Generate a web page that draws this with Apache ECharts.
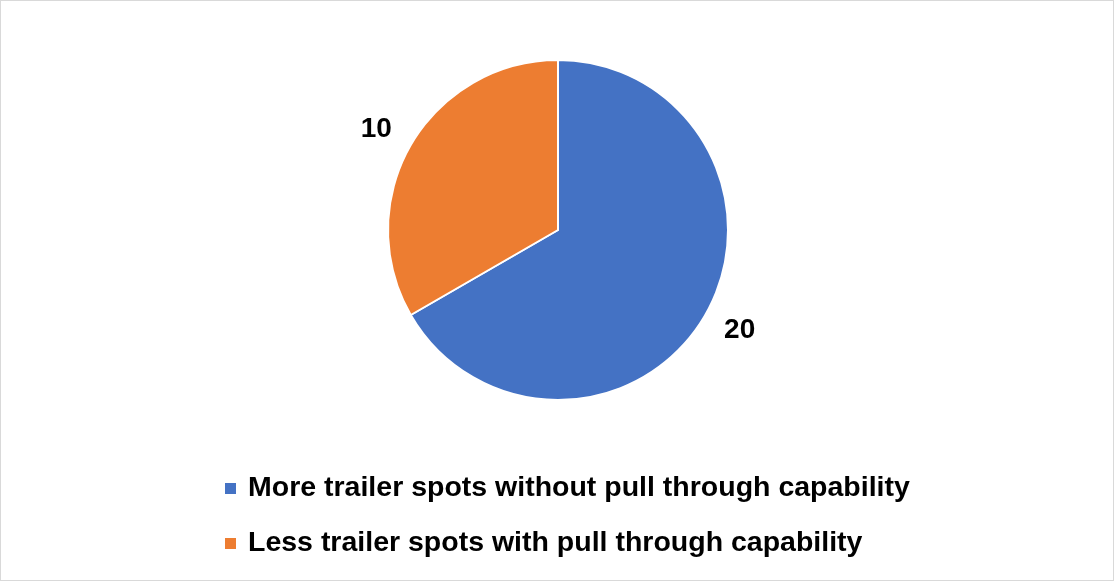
<!DOCTYPE html>
<html>
<head>
    <meta charset="utf-8">
    <script src="https://cdn.jsdelivr.net/npm/echarts@6/dist/echarts.min.js"></script>
    <style>
        body { margin: 0; background: #fff; }
        #main { width: 1112px; height: 579px; border: 1px solid #d9d9d9; }
    </style>
</head>
<body>
<div id="main"></div>
<script type="text/javascript">
    var names = ['More trailer spots without pull through capability', 'Less trailer spots with pull through capability'];
    var values = [20, 10];
    var colors = ['#4472C4', '#ED7D31'];

    var pieData = [];
    for (var i = 0; i < names.length; i++) {
        pieData.push({name: names[i], value: values[i], itemStyle: {color: colors[i]}});
    }

    var myChart = echarts.init(document.getElementById('main'));
    var option = {
        backgroundColor: '#fff',
        animation: false,
        legend: {
            orient: 'vertical', left: 217, top: 468,
            itemWidth: 13, itemHeight: 13, itemGap: 26,
            icon: 'rect',
            textStyle: {
                fontFamily: '"Liberation Sans", sans-serif',
                fontWeight: 'bold', fontSize: 28.5, color: '#000', padding: [0, 0, 0, 6]
            }
        },
        series: [{
            type: 'pie',
            center: [557, 229], radius: 170,
            startAngle: 90, clockwise: true,
            data: pieData,
            itemStyle: {borderColor: '#fff', borderWidth: 2},
            label: {
                show: true, position: 'outside', formatter: '{c}',
                distanceToLabelLine: -8,
                fontFamily: '"Liberation Sans", sans-serif', fontWeight: 'bold',
                fontSize: 28, color: '#000'
            },
            labelLine: {show: false, length: 31, length2: 0}
        }]
    };
    myChart.setOption(option);
</script>
</body>
</html>
